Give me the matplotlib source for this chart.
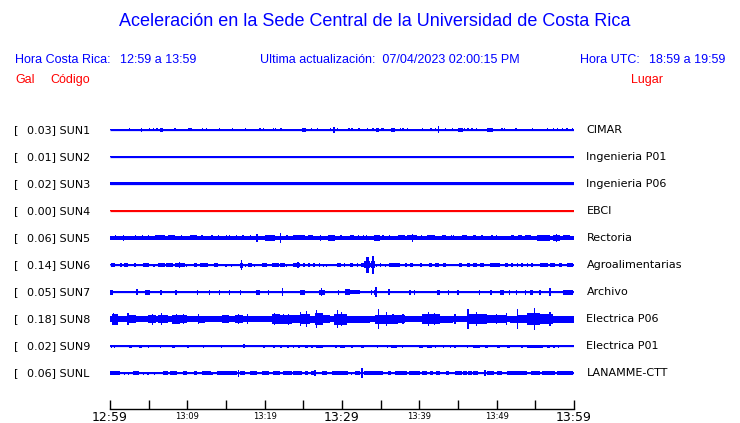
import matplotlib
matplotlib.use("Agg")
import matplotlib.pyplot as plt
import matplotlib.transforms as mtransforms

# ---- data ----
CODES = ["SUN1", "SUN2", "SUN3", "SUN4", "SUN5", "SUN6", "SUN7", "SUN8", "SUN9", "SUNL"]
GAL = [0.03, 0.01, 0.02, 0.00, 0.06, 0.14, 0.05, 0.18, 0.02, 0.06]
PLACES = ["CIMAR", "Ingenieria P01", "Ingenieria P06", "EBCI", "Rectoria",
          "Agroalimentarias", "Archivo", "Electrica P06", "Electrica P01", "LANAMME-CTT"]
TRACE_COLORS = ["#0000FF", "#0000FF", "#0000FF", "#FF0000", "#0000FF",
                "#0000FF", "#0000FF", "#0000FF", "#0000FF", "#0000FF"]
# background half-amplitude of each trace (pixel-like units)
BASE_AMP = [0.5, 0.5, 1.5, 0.5, 1.6, 0.5, 1.3, 3.0, 0.5, 0.5]

TICK_MIN = [0, 5, 10, 15, 20, 25, 30, 35, 40, 45, 50, 55, 60]
TICK_LABELS = ["12:59", "", "13:09", "", "13:19", "", "13:29", "", "13:39", "", "13:49", "", "13:59"]
BIG_TICKS = ["12:59", "13:29", "13:59"]

# bursts: (start minute, end minute, half-amplitude)
SUN1_EV = [(2.5, 2.5, 1.5), (4.0, 4.2, 2), (5.1, 5.1, 1.5), (5.6, 5.6, 1.5), (6.0, 6.2, 1.5), (6.5, 6.9, 2),
           (8.4, 8.4, 1.5), (10.1, 10.6, 1.5), (12.0, 12.0, 1.5), (12.5, 12.5, 1.5), (14.2, 14.2, 1.5),
           (15.8, 15.8, 1.5), (16.5, 16.5, 1), (17.5, 17.5, 1.5), (19.3, 19.5, 1.5), (19.8, 19.8, 1.5),
           (21.1, 21.1, 1.5), (21.4, 21.4, 1.5), (22.1, 22.1, 1.5), (24.8, 25.3, 2), (26.1, 26.1, 1.5),
           (26.8, 26.8, 1.5), (27.8, 27.8, 1), (28.5, 28.5, 1.5), (28.9, 29.1, 3), (29.4, 29.4, 1.5),
           (30.9, 30.9, 1.5), (31.3, 31.3, 1.5), (32.2, 32.2, 1.5), (33.3, 33.3, 1.5), (34.0, 34.0, 1.5),
           (34.4, 34.8, 2), (35.1, 35.1, 1.5), (35.3, 35.3, 1.5), (36.3, 36.8, 2), (37.6, 37.6, 1.5),
           (37.9, 37.9, 1.5), (38.5, 38.5, 1.5), (40.4, 40.4, 1.5), (41.5, 41.5, 1.5), (42.1, 42.1, 1.5),
           (42.4, 42.6, 3.5), (43.4, 43.4, 1.5), (44.3, 44.3, 1.5), (45.0, 45.6, 2), (45.8, 45.8, 1.5),
           (46.3, 46.3, 1.5), (46.8, 46.8, 1.5), (47.4, 47.4, 1.5), (48.8, 49.5, 2), (50.7, 50.7, 1.5),
           (51.0, 51.0, 1.5), (52.5, 52.5, 1.5), (54.6, 54.6, 1.5), (56.2, 56.2, 1), (56.6, 56.6, 1.5),
           (57.3, 57.3, 1.5), (57.9, 57.9, 1.5), (58.5, 58.5, 1.5), (59.1, 59.1, 1.5), (59.8, 59.8, 1.5)]
SUN2_EV = []
SUN3_EV = []
SUN4_EV = []
SUN5_EV = [(0.7, 0.7, 2.5), (1.7, 1.7, 3), (3.3, 3.3, 2.5), (4.2, 4.2, 2.5), (5.0, 5.0, 2.5), (5.8, 7.1, 2.5),
           (7.5, 8.4, 2.5), (9.2, 9.2, 2.5), (10.3, 11.2, 2.5), (11.9, 11.9, 2.5), (13.2, 13.2, 2.5),
           (14.0, 14.0, 2.5), (15.1, 15.1, 2.5), (15.5, 15.5, 2.5), (16.4, 16.4, 2.5), (17.2, 17.2, 2.5),
           (18.2, 18.2, 2.5), (19.0, 19.0, 4), (20.0, 21.3, 3), (22.0, 22.0, 5), (22.9, 22.9, 2.5),
           (23.7, 25.2, 2.5), (25.6, 26.2, 2.5), (27.2, 27.2, 3), (28.2, 29.1, 3), (29.7, 30.0, 2.5),
           (31.0, 31.5, 2.5), (32.1, 32.1, 2.5), (32.8, 32.8, 2.5), (33.2, 33.2, 2.5), (34.1, 34.9, 3),
           (35.3, 35.3, 2.5), (36.1, 36.1, 2.5), (37.3, 38.2, 2.5), (38.4, 39.7, 2.5), (39.1, 39.1, 4),
           (40.3, 40.3, 2.5), (41.0, 42.0, 2.5), (42.9, 43.5, 2.5), (44.2, 44.2, 2.5), (44.4, 44.4, 2.5),
           (45.5, 46.1, 2.5), (47.0, 47.3, 2.5), (48.1, 48.1, 2.5), (49.4, 49.4, 2.5), (50.0, 50.0, 2.5),
           (51.8, 52.2, 2.5), (52.8, 53.3, 2.5), (53.7, 54.5, 2.5), (55.2, 56.9, 3), (57.3, 58.2, 3),
           (57.7, 57.7, 4), (58.6, 59.5, 2.5)]
SUN6_EV = [(0.1, 0.6, 2), (1.3, 1.5, 2), (1.8, 2.3, 2), (3.1, 3.4, 2), (4.3, 5.0, 2), (5.7, 5.7, 1.5),
           (6.2, 7.1, 2), (7.3, 8.2, 2), (8.4, 9.7, 2), (9.0, 9.0, 3), (9.9, 9.9, 1.5), (10.8, 11.2, 2),
           (11.6, 12.7, 2), (13.4, 14.0, 2), (15.0, 15.0, 1.5), (15.7, 15.7, 1.5), (16.8, 17.2, 2.5),
           (17.0, 17.0, 5), (17.5, 17.5, 1.5), (17.9, 18.3, 2), (18.7, 18.7, 1.5), (19.6, 20.3, 2),
           (20.9, 21.8, 2), (22.0, 22.6, 2), (22.8, 22.8, 1.5), (23.7, 24.6, 2), (24.3, 24.3, 3),
           (25.0, 25.2, 2), (25.6, 25.9, 2), (26.3, 26.5, 2), (27.0, 27.2, 2), (27.6, 27.6, 1.5),
           (28.0, 28.0, 1.5), (29.3, 29.9, 2), (30.2, 30.4, 2), (31.0, 31.4, 2), (31.9, 32.1, 2),
           (32.5, 34.3, 2), (32.9, 33.6, 3.5), (33.15, 33.45, 8), (33.75, 34.25, 3.5), (33.9, 34.1, 9),
           (34.5, 34.5, 1.5), (34.9, 35.1, 2), (35.6, 35.6, 1.5), (36.1, 37.5, 2), (38.1, 38.4, 2),
           (38.8, 39.2, 2), (40.1, 40.3, 2), (41.2, 41.6, 2), (42.0, 42.5, 2), (43.1, 43.5, 2),
           (45.1, 45.5, 2), (46.1, 46.6, 2), (47.0, 47.4, 2), (47.9, 48.3, 2), (49.1, 50.4, 2),
           (51.1, 51.5, 2), (51.9, 52.1, 2), (52.6, 52.8, 2), (53.2, 53.4, 2), (53.9, 54.1, 2),
           (54.5, 54.7, 2), (55.6, 56.7, 2), (56.9, 57.5, 2), (58.0, 58.4, 2), (59.1, 59.9, 2)]
SUN7_EV = [(0.0, 0.4, 2.5), (3.5, 3.5, 3), (4.5, 5.2, 2.5), (6.5, 6.7, 2.5), (8.4, 8.6, 2.5),
           (11.2, 11.4, 2.5), (12.9, 12.9, 2.5), (14.2, 14.2, 2.5), (15.5, 15.5, 2.5), (16.8, 17.0, 2.5),
           (18.9, 19.4, 2.5), (20.5, 20.5, 2.5), (22.2, 22.4, 4), (24.6, 25.2, 2.5), (27.0, 27.8, 2.5),
           (27.3, 27.3, 4), (29.5, 29.5, 2.5), (30.4, 31.0, 3), (31.0, 32.3, 2.2), (33.8, 33.8, 2.5),
           (34.1, 34.5, 2.5), (34.4, 34.4, 5), (36.0, 36.2, 3), (38.8, 38.8, 2.5), (39.4, 39.4, 2.5),
           (42.3, 42.7, 2.5), (43.8, 43.8, 2.5), (45.0, 45.0, 2.5), (47.8, 47.8, 2.5), (49.1, 49.4, 2.5),
           (50.4, 50.9, 2.5), (51.7, 51.7, 2.5), (52.6, 52.6, 2.5), (53.7, 53.7, 2.5), (54.3, 54.7, 2.5),
           (55.6, 55.6, 2.5), (56.9, 56.9, 4), (58.6, 59.9, 2.5)]
SUN8_EV = [(0.2, 1.0, 5.5), (0.5, 0.5, 6), (2.2, 2.4, 6), (2.3, 3.4, 4), (4.9, 6.0, 4), (5.5, 5.5, 5.5),
           (6.2, 7.5, 4), (6.7, 6.7, 6), (8.0, 9.0, 4.5), (8.6, 8.6, 5), (9.0, 10.0, 4), (9.5, 9.5, 5),
           (11.4, 11.4, 5), (11.4, 12.3, 3.5), (14.5, 15.4, 4), (16.2, 17.2, 4), (16.6, 16.6, 5),
           (17.8, 17.8, 5), (20.9, 22.0, 5), (21.3, 21.3, 6), (22.0, 23.5, 4.5), (22.4, 22.4, 5),
           (23.1, 23.1, 5.5), (23.5, 24.6, 4), (24.6, 24.6, 7), (24.6, 25.9, 5), (25.4, 25.4, 8),
           (25.9, 26.5, 3.5), (26.5, 27.6, 6), (26.7, 26.7, 9), (27.6, 28.5, 4), (29.0, 30.6, 5.5),
           (29.4, 29.4, 9), (29.9, 29.9, 7), (30.6, 33.6, 3.5), (34.3, 37.3, 4.5), (34.7, 34.7, 10),
           (35.8, 35.8, 7), (36.6, 36.6, 5), (37.3, 38.1, 4), (37.9, 37.9, 5), (40.3, 42.7, 5),
           (41.2, 41.2, 7), (42.0, 42.0, 6), (42.7, 44.4, 3.5), (44.6, 44.6, 5), (46.3, 46.3, 10),
           (46.3, 48.7, 5), (47.4, 47.4, 7), (48.7, 51.3, 4), (50.0, 50.0, 5), (51.3, 51.3, 6),
           (51.7, 52.6, 3.5), (52.7, 52.7, 10), (52.8, 53.9, 4), (53.9, 55.6, 6), (54.9, 54.9, 11),
           (55.6, 57.3, 5), (56.9, 56.9, 7), (57.3, 60.0, 3.5)]
SUN9_EV = [(0.2, 0.2, 1.5), (0.6, 0.6, 1.5), (2.4, 2.8, 1.5), (3.7, 4.1, 1.5), (5.0, 5.0, 1.5),
           (6.5, 6.5, 1.5), (8.0, 8.4, 1.5), (10.1, 10.1, 1.5), (12.1, 12.1, 1.5), (14.4, 14.4, 1.5),
           (17.2, 17.5, 2), (19.8, 20.0, 1.5), (21.1, 21.3, 1.5), (22.0, 22.2, 1.5), (22.9, 23.1, 1.5),
           (23.7, 23.7, 1.5), (24.3, 24.6, 1.5), (25.2, 25.6, 1.5), (26.0, 26.3, 1.5), (26.7, 27.6, 1.5),
           (29.1, 29.3, 1.5), (29.7, 30.4, 1.5), (31.3, 31.3, 1.5), (32.5, 32.8, 1.5), (34.5, 34.7, 1.5),
           (35.8, 36.0, 1.5), (36.4, 37.1, 1.5), (37.7, 37.9, 1.5), (39.9, 40.5, 1.5), (41.0, 41.6, 1.5),
           (42.0, 42.2, 1.5), (43.1, 43.1, 1.5), (44.0, 44.0, 1.5), (44.6, 44.6, 1.5), (46.1, 46.3, 1.5),
           (47.0, 47.8, 1.5), (48.5, 48.9, 1.5), (50.0, 50.4, 1.5), (51.3, 51.7, 1.5), (53.2, 53.4, 1.5),
           (53.9, 56.0, 1.5), (56.5, 56.9, 1.5), (57.3, 57.5, 1.5), (58.0, 58.0, 1.5)]
SUNL_EV = [(0.0, 1.3, 2), (1.9, 1.9, 1.5), (2.4, 2.4, 1.5), (3.0, 3.7, 2), (4.3, 4.3, 1.5), (4.9, 4.9, 1.5),
           (5.8, 5.8, 1.5), (6.9, 7.5, 2), (7.8, 8.6, 2), (9.5, 9.9, 2), (10.8, 11.2, 2), (11.9, 13.0, 2),
           (13.2, 13.2, 1.5), (13.8, 16.4, 2), (16.6, 16.6, 3.5), (16.8, 17.5, 2), (18.1, 19.0, 2),
           (19.6, 20.5, 2), (21.1, 22.0, 2), (22.4, 23.5, 2), (23.7, 24.8, 2), (25.2, 25.6, 2),
           (26.0, 26.7, 2), (26.5, 26.5, 3), (27.4, 28.0, 2), (28.7, 30.8, 2), (31.2, 31.2, 1.5),
           (31.7, 32.3, 2), (32.6, 32.6, 5), (32.8, 35.3, 2), (35.9, 36.4, 2), (36.9, 38.4, 2),
           (38.6, 40.1, 2), (40.3, 41.0, 2), (41.4, 41.8, 2), (42.2, 42.7, 2), (43.5, 43.9, 2),
           (44.6, 45.5, 2), (45.7, 46.1, 2), (46.3, 46.8, 2), (47.0, 47.6, 2), (48.5, 48.5, 3),
           (48.7, 49.6, 2), (50.0, 50.7, 2), (51.3, 53.9, 2), (54.5, 55.6, 2), (55.8, 57.5, 2),
           (57.8, 59.9, 2)]
EVENTS = [SUN1_EV, SUN2_EV, SUN3_EV, SUN4_EV, SUN5_EV, SUN6_EV, SUN7_EV, SUN8_EV, SUN9_EV, SUNL_EV]

W, H = 740, 423
PX_ROW = 27.0          # pixel spacing between traces
BLUE, RED = "#0000FF", "#FF0000"
HEAD_FONT = "Liberation Sans"


def fx(x):
    return x / W


def fy(y):
    return 1 - y / H


fig = plt.figure(figsize=(W / 100, H / 100), dpi=100)
fig.patch.set_facecolor("white")

# trace panel: first trace at y=130px, axis line at y=409px
ax = fig.add_axes([fx(110), fy(409), (574 - 110) / W, (409 - 116.5) / H])
n = len(CODES)
ax.set_xlim(0, 60)
ax.set_ylim(n - 1 + (409 - 373) / PX_ROW, -0.5)

for i, (evs, col) in enumerate(zip(EVENTS, TRACE_COLORS)):
    b = BASE_AMP[i] / PX_ROW
    ax.fill_between([0, 60], i - b, i + b, color=col, linewidth=0, antialiased=False)
    ax.hlines(i, 0, 60, color=col, linewidth=0.9)
    for t0, t1, a in evs:
        w = max(t1 - t0, 0.16)
        x0 = t0 if t1 > t0 else t0 - w / 2
        h = a / PX_ROW
        ax.bar(x0, 2 * h, width=w, bottom=i - h, align="edge", color=col,
               linewidth=0, antialiased=False)

for s in ("left", "top", "right"):
    ax.spines[s].set_visible(False)
ax.spines["bottom"].set_linewidth(1.0)
ax.set_yticks([])
ax.set_xticks(TICK_MIN)
ax.set_xticklabels(TICK_LABELS)
ax.tick_params(axis="x", direction="in", length=6.5, width=1.0, pad=1.5)
for lab in ax.get_xticklabels():
    if lab.get_text() in BIG_TICKS:
        lab.set_fontsize(9)
    else:
        lab.set_fontsize(6)
        lab.set_y(-0.004)

# station labels
tr = mtransforms.blended_transform_factory(fig.transFigure, ax.transData)
for i in range(n):
    ax.text(fx(13.7), i, "[", transform=tr, fontsize=8, va="center", ha="left")
    ax.text(fx(27), i, f"{GAL[i]:.2f}] {CODES[i]}", transform=tr, fontsize=8,
            va="center", ha="left")
    ax.text(fx(586.5), i, PLACES[i], transform=tr, fontsize=8, va="center", ha="left")

# header
fig.text(fx(375), fy(22), "Aceleración en la Sede Central de la Universidad de Costa Rica",
         ha="center", va="center", color=BLUE, fontsize=13, family=HEAD_FONT)
fig.text(fx(15), fy(60), "Hora Costa Rica:", ha="left", va="center", color=BLUE,
         fontsize=9, family=HEAD_FONT)
fig.text(fx(120), fy(60), "12:59 a 13:59", ha="left", va="center", color=BLUE,
         fontsize=9, family=HEAD_FONT)
fig.text(fx(260), fy(60), "Ultima actualización:  07/04/2023 02:00:15 PM", ha="left",
         va="center", color=BLUE, fontsize=9, family=HEAD_FONT)
fig.text(fx(580), fy(60), "Hora UTC:", ha="left", va="center", color=BLUE,
         fontsize=9, family=HEAD_FONT)
fig.text(fx(725), fy(60), "18:59 a 19:59", ha="right", va="center", color=BLUE,
         fontsize=9, family=HEAD_FONT)
fig.text(fx(15), fy(80), "Gal", ha="left", va="center", color=RED, fontsize=9, family=HEAD_FONT)
fig.text(fx(50), fy(80), "Código", ha="left", va="center", color=RED, fontsize=9, family=HEAD_FONT)
fig.text(fx(631), fy(80), "Lugar", ha="left", va="center", color=RED, fontsize=9, family=HEAD_FONT)

fig.savefig("out.png", dpi=100)
